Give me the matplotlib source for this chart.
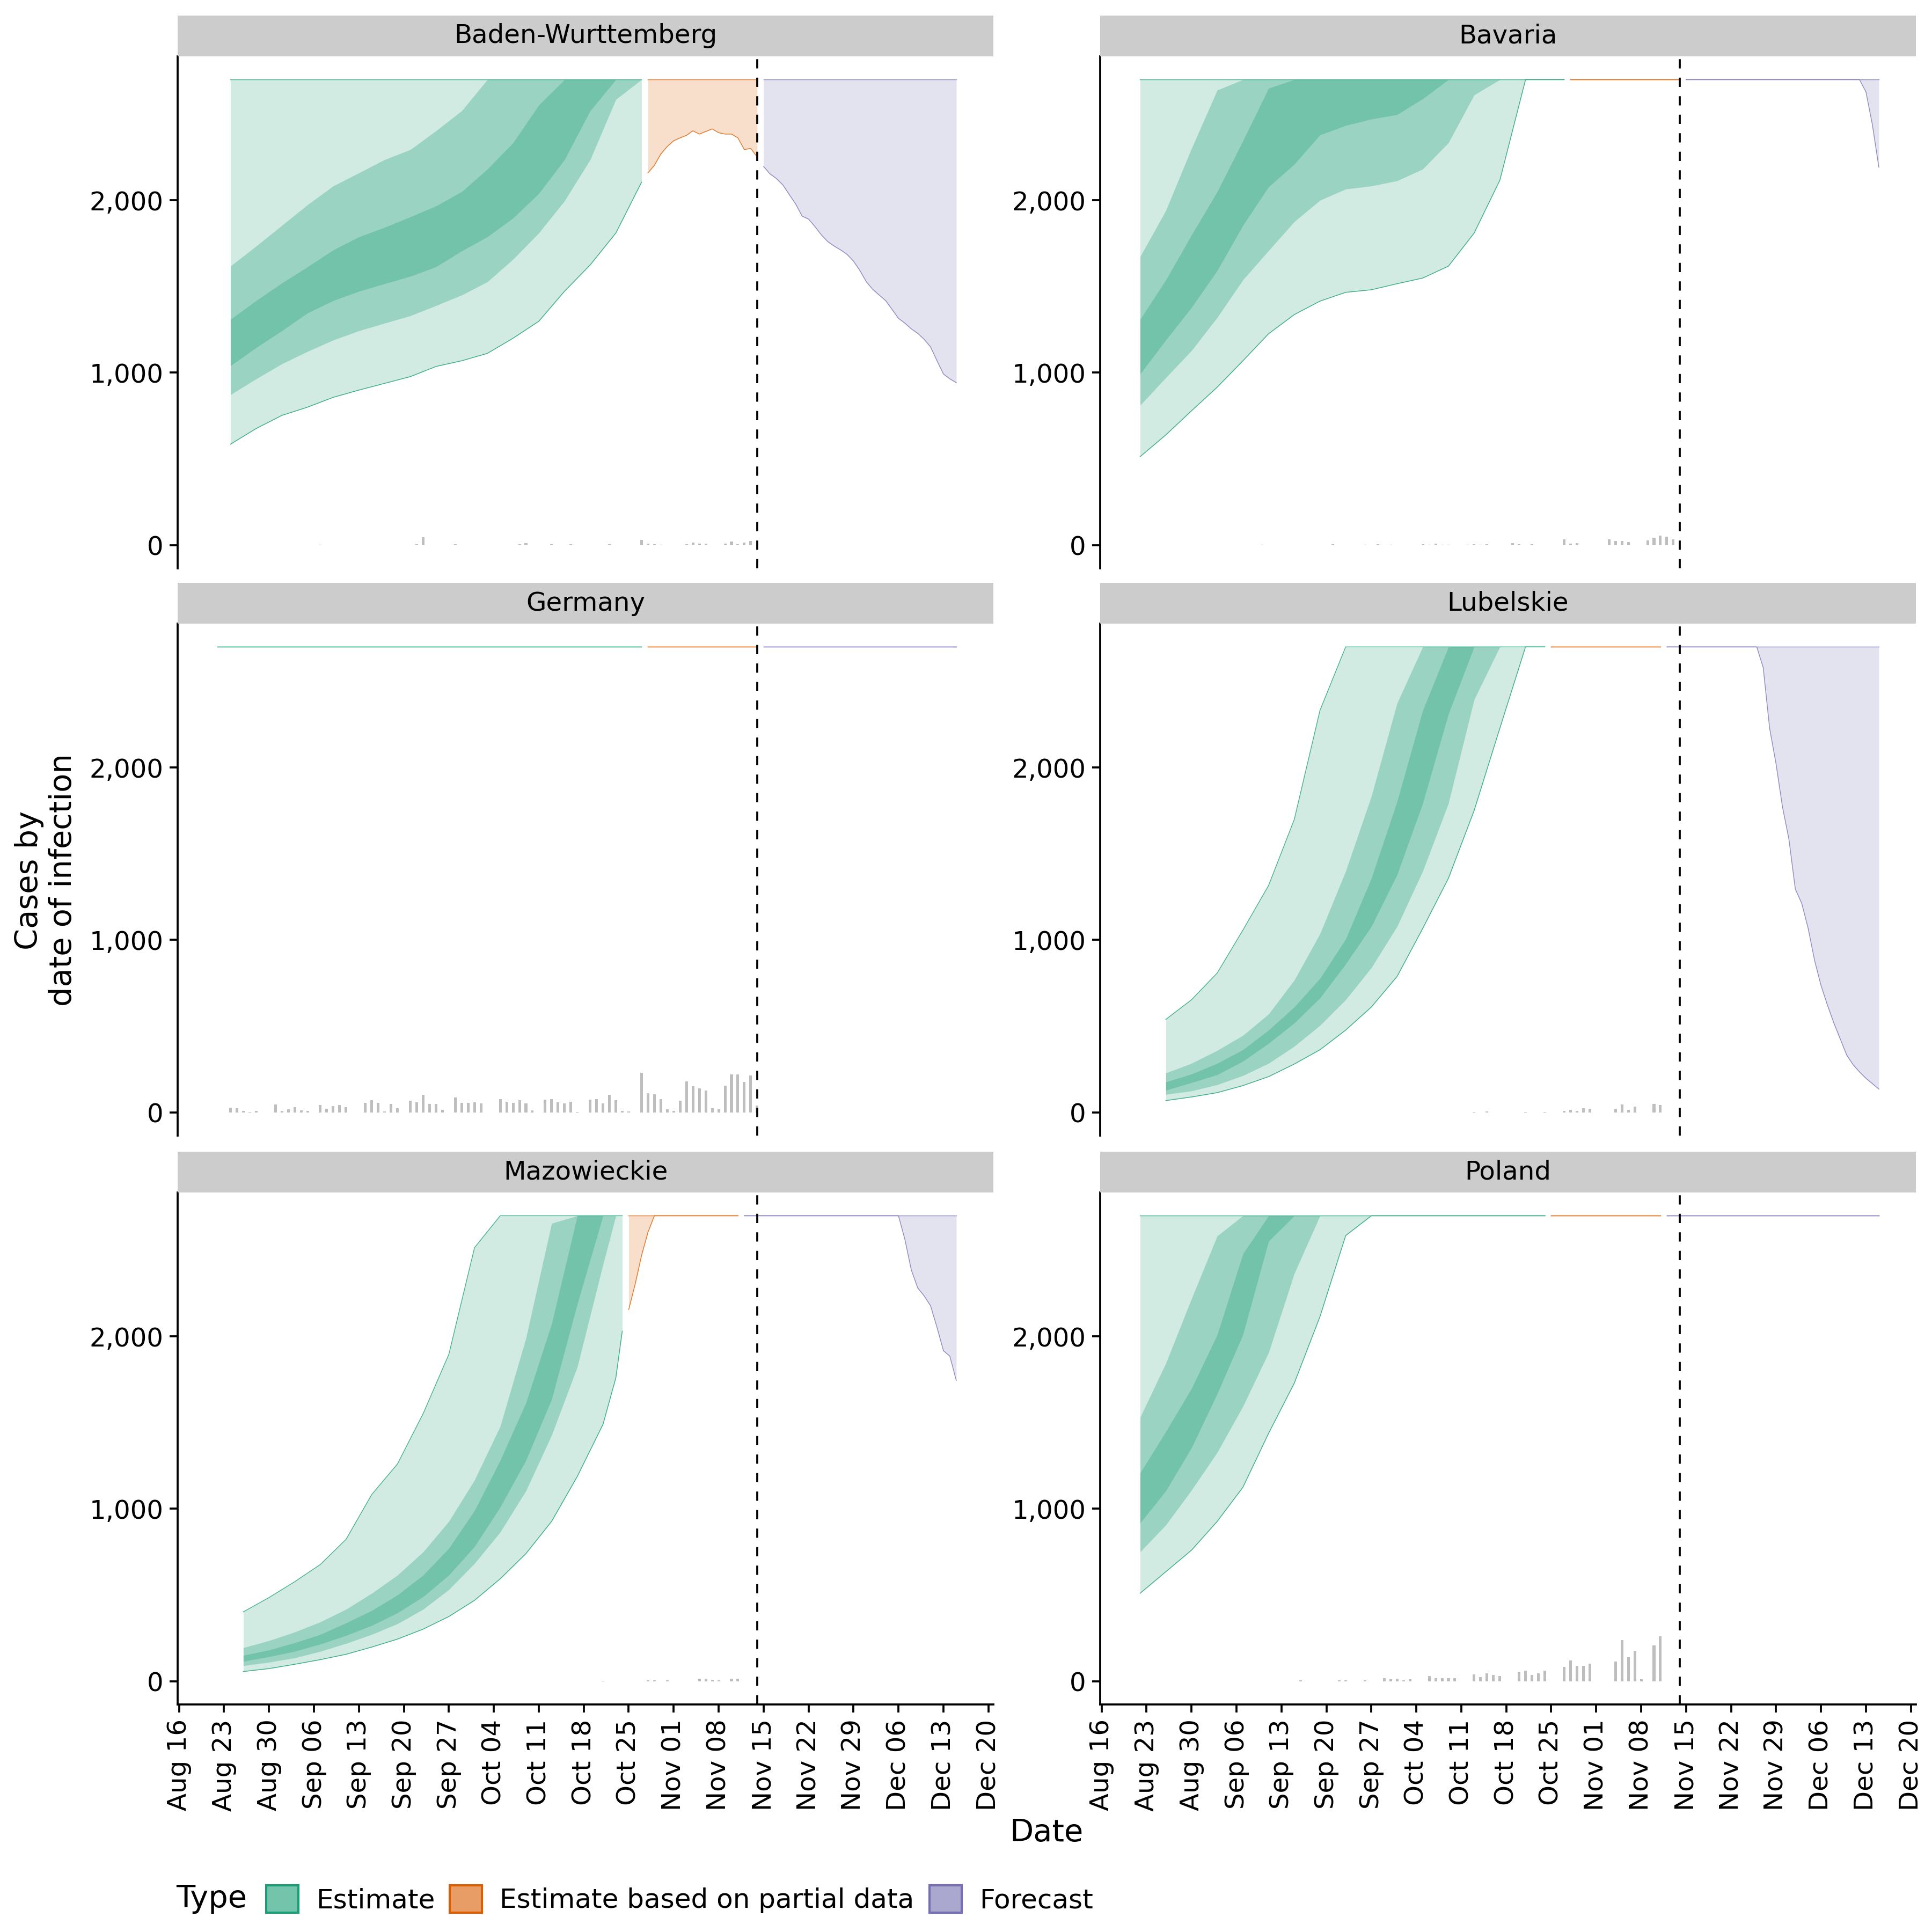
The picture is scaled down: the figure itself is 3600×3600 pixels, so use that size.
import numpy as np
import matplotlib
matplotlib.use("Agg")
import matplotlib.pyplot as plt
import matplotlib.dates as mdates
from matplotlib.patches import Patch

plt.rcParams["font.family"] = ["DejaVu Sans"]

# ---------------------------------------------------------------- data
BASE_DATE = np.datetime64("2020-08-16")   # day 0
CAP = 2700            # ribbons are capped at max_plot * max(reported)
REPORT_END_DAY = 90   # dashed line: last reported date (Nov 14)

REGIONS = ["Baden-Wurttemberg", "Bavaria", "Germany", "Lubelskie", "Mazowieckie", "Poland"]
TYPES = ["Estimate", "Estimate based on partial data", "Forecast"]
TYPE_COLORS = ["#1B9E77", "#D95F02", "#7570B3"]
Y_TICKS = [0, 1000, 2000]
X_TICK_DAYS = list(range(0, 127, 7))   # weekly, Aug 16 .. Dec 20

# ---- Baden-Wurttemberg
BW_EST_DAY = [8, 12, 16, 20, 24, 28, 32, 36, 40, 44, 48, 52, 56, 60, 64, 68, 72]
BW_EST_L90 = [585, 676, 752, 800, 857, 899, 938, 977, 1036, 1069, 1112, 1200, 1298, 1472, 1625, 1810, 2105]
BW_EST_L50 = [872, 964, 1051, 1123, 1189, 1243, 1287, 1330, 1389, 1450, 1527, 1658, 1810, 1996, 2235, 2585, 2700]
BW_EST_L20 = [1040, 1145, 1243, 1346, 1418, 1472, 1516, 1559, 1614, 1706, 1788, 1897, 2039, 2235, 2519, 2700, 2700]
BW_EST_U20 = [1309, 1418, 1520, 1614, 1712, 1788, 1843, 1904, 1967, 2050, 2181, 2334, 2552, 2700, 2700, 2700, 2700]
BW_EST_U50 = [1618, 1734, 1854, 1974, 2083, 2159, 2236, 2294, 2403, 2519, 2700, 2700, 2700, 2700, 2700, 2700, 2700]
BW_PART_DAY = list(range(73, 91))
BW_PART_L90 = [2159, 2203, 2268, 2312, 2345, 2362, 2377, 2403, 2384, 2399, 2414, 2392, 2384, 2384, 2362, 2294, 2301, 2251]
BW_FC_DAY = list(range(91, 122))
BW_FC_L90 = [2196, 2153, 2126, 2089, 2033, 1978, 1908, 1891, 1847, 1799, 1760, 1734, 1712, 1686, 1647, 1592,
             1527, 1483, 1450, 1418, 1367, 1315, 1287, 1254, 1228, 1193, 1149, 1069, 992, 964, 942]
BW_BAR_DAY = [22, 37, 38, 43, 53, 54, 58, 61, 67, 72, 73, 74, 75, 79, 80, 81, 82, 85, 86, 87, 88, 89]
BW_BAR_CASES = [3, 4, 45, 4, 4, 12, 4, 4, 4, 31, 9, 4, 2, 4, 15, 7, 7, 9, 22, 4, 13, 24]

# ---- Bavaria
BY_EST_DAY = [6, 10, 14, 18, 22, 26, 30, 34, 38, 42, 46, 50, 54, 58, 62, 66, 70, 72]
BY_EST_L90 = [513, 639, 779, 916, 1069, 1226, 1337, 1415, 1466, 1481, 1516, 1549, 1618, 1810, 2116, 2700, 2700, 2700]
BY_EST_L50 = [811, 971, 1128, 1320, 1538, 1708, 1876, 2000, 2065, 2083, 2113, 2181, 2334, 2611, 2700, 2700, 2700, 2700]
BY_EST_L20 = [992, 1189, 1378, 1592, 1854, 2078, 2209, 2379, 2434, 2471, 2497, 2589, 2700, 2700, 2700, 2700, 2700, 2700]
BY_EST_U20 = [1309, 1538, 1799, 2050, 2345, 2650, 2700, 2700, 2700, 2700, 2700, 2700, 2700, 2700, 2700, 2700, 2700, 2700]
BY_EST_U50 = [1673, 1941, 2301, 2639, 2700, 2700, 2700, 2700, 2700, 2700, 2700, 2700, 2700, 2700, 2700, 2700, 2700, 2700]
BY_PART_DAY = [73, 90]
BY_PART_L90 = [2700, 2700]
BY_FC_DAY = [91, 118, 119, 120, 121]
BY_FC_L90 = [2700, 2700, 2628, 2438, 2192]
BY_BAR_DAY = [25, 36, 41, 43, 45, 50, 51, 52, 53, 54, 57, 58, 59, 60, 64, 65, 67, 72, 73, 74,
              79, 80, 81, 82, 85, 86, 87, 88, 89]
BY_BAR_CASES = [1, 4, 3, 5, 3, 4, 3, 7, 3, 2, 2, 5, 3, 5, 12, 5, 6, 33, 7, 12,
                32, 24, 24, 18, 28, 41, 56, 48, 34]

# ---- Germany (all intervals above the cap)
DE_EST_DAY = [6, 72]
DE_EST_L90 = [2700, 2700]
DE_PART_DAY = [73, 90]
DE_PART_L90 = [2700, 2700]
DE_FC_DAY = [91, 121]
DE_FC_L90 = [2700, 2700]
DE_BAR_DAY = [8, 9, 10, 11, 12, 15, 16, 17, 18, 19, 20, 22, 23, 24, 25, 26, 29, 30, 31, 32, 33, 34,
              36, 37, 38, 39, 40, 41, 43, 44, 45, 46, 47, 50, 51, 52, 53, 54, 55, 57, 58, 59, 60, 61, 62,
              64, 65, 66, 67, 68, 69, 70, 72, 73, 74, 75, 76, 77, 78, 79, 80, 81, 82, 83, 84, 85, 86,
              87, 88, 89, 90]
DE_BAR_CASES = [28, 25, 7, 3, 8, 45, 9, 19, 30, 10, 8, 44, 21, 36, 41, 31, 55, 69, 55, 5, 48, 24,
                67, 58, 101, 50, 48, 14, 86, 54, 54, 59, 53, 76, 62, 55, 71, 51, 10, 73, 77, 59, 51, 61, 3,
                73, 77, 53, 101, 72, 8, 5, 228, 112, 106, 76, 19, 9, 67, 179, 150, 140, 128, 24, 19, 155, 220,
                220, 176, 213, 40]

# ---- Lubelskie
LU_EST_DAY = [10, 14, 18, 22, 26, 30, 34, 38, 42, 46, 50, 54, 58, 62, 66, 69]
LU_EST_L90 = [68, 89, 114, 155, 207, 280, 363, 477, 611, 788, 1067, 1358, 1751, 2228, 2700, 2700]
LU_EST_L50 = [104, 124, 160, 213, 284, 383, 504, 653, 839, 1078, 1399, 1793, 2394, 2700, 2700, 2700]
LU_EST_L20 = [128, 172, 218, 296, 400, 518, 663, 860, 1078, 1378, 1793, 2311, 2700, 2700, 2700, 2700]
LU_EST_U20 = [176, 222, 284, 363, 477, 611, 777, 1005, 1358, 1803, 2332, 2700, 2700, 2700, 2700, 2700]
LU_EST_U50 = [228, 284, 359, 446, 570, 767, 1036, 1399, 1834, 2373, 2700, 2700, 2700, 2700, 2700, 2700]
LU_EST_U90 = [539, 653, 808, 1057, 1316, 1699, 2332, 2700, 2700, 2700, 2700, 2700, 2700, 2700, 2700, 2700]
LU_PART_DAY = [70, 87]
LU_PART_L90 = [2700, 2700]
LU_FC_DAY = [88, 102, 103, 104, 105, 106, 107, 108, 109, 110, 111, 112, 113, 114, 115, 116, 117, 118, 119, 120, 121]
LU_FC_L90 = [2700, 2700, 2580, 2228, 2021, 1772, 1585, 1295, 1212, 1067, 881, 736, 622, 518, 425, 332, 276,
             234, 197, 166, 135]
LU_BAR_DAY = [58, 60, 66, 69, 72, 73, 74, 75, 76, 80, 81, 82, 83, 86, 87]
LU_BAR_CASES = [2, 4, 2, 2, 9, 13, 9, 23, 20, 21, 45, 15, 32, 50, 42]

# ---- Mazowieckie
MZ_EST_DAY = [10, 14, 18, 22, 26, 30, 34, 38, 42, 46, 50, 54, 58, 62, 66, 68, 69]
MZ_EST_L90 = [56, 73, 98, 125, 156, 198, 244, 302, 375, 469, 594, 740, 927, 1188, 1490, 1760, 2031]
MZ_EST_L50 = [90, 110, 135, 173, 219, 271, 333, 417, 531, 683, 865, 1104, 1427, 1823, 2417, 2700, 2700]
MZ_EST_L20 = [115, 142, 173, 215, 265, 323, 396, 490, 615, 781, 1010, 1281, 1635, 2188, 2700, 2700, 2700]
MZ_EST_U20 = [150, 181, 223, 271, 338, 410, 500, 615, 771, 990, 1281, 1615, 2073, 2700, 2700, 2700, 2700]
MZ_EST_U50 = [194, 235, 285, 344, 417, 510, 615, 750, 927, 1167, 1479, 1990, 2656, 2700, 2700, 2700, 2700]
MZ_EST_U90 = [402, 485, 577, 677, 823, 1083, 1260, 1552, 1896, 2515, 2700, 2700, 2700, 2700, 2700, 2700, 2700]
MZ_PART_DAY = [70, 71, 72, 73, 74, 87]
MZ_PART_L90 = [2156, 2302, 2469, 2604, 2700, 2700]
MZ_FC_DAY = [88, 112, 113, 114, 115, 116, 117, 118, 119, 120, 121]
MZ_FC_L90 = [2700, 2700, 2562, 2385, 2281, 2235, 2177, 2052, 1917, 1885, 1744]
MZ_BAR_DAY = [66, 73, 74, 76, 81, 82, 83, 84, 86, 87]
MZ_BAR_CASES = [3, 6, 4, 4, 13, 13, 8, 6, 14, 14]

# ---- Poland
PL_EST_DAY = [6, 10, 14, 18, 22, 26, 30, 34, 38, 42, 46, 50, 54, 58, 62, 66, 69]
PL_EST_L90 = [510, 635, 760, 927, 1125, 1438, 1729, 2115, 2585, 2700, 2700, 2700, 2700, 2700, 2700, 2700, 2700]
PL_EST_L50 = [750, 906, 1108, 1327, 1594, 1906, 2365, 2700, 2700, 2700, 2700, 2700, 2700, 2700, 2700, 2700, 2700]
PL_EST_L20 = [917, 1104, 1354, 1667, 2010, 2552, 2700, 2700, 2700, 2700, 2700, 2700, 2700, 2700, 2700, 2700, 2700]
PL_EST_U20 = [1208, 1448, 1698, 2010, 2479, 2700, 2700, 2700, 2700, 2700, 2700, 2700, 2700, 2700, 2700, 2700, 2700]
PL_EST_U50 = [1531, 1844, 2219, 2583, 2700, 2700, 2700, 2700, 2700, 2700, 2700, 2700, 2700, 2700, 2700, 2700, 2700]
PL_PART_DAY = [70, 87]
PL_PART_L90 = [2700, 2700]
PL_FC_DAY = [88, 121]
PL_FC_L90 = [2700, 2700]
PL_BAR_DAY = [31, 37, 38, 41, 44, 45, 46, 47, 48, 51, 52, 53, 54, 55, 58, 59, 60, 61, 62, 65, 66, 67, 68, 69,
              72, 73, 74, 75, 76, 80, 81, 82, 83, 84, 86, 87]
PL_BAR_CASES = [6, 6, 6, 6, 17, 10, 15, 6, 10, 31, 19, 19, 19, 19, 38, 25, 46, 35, 31, 52, 62, 35, 46, 62,
                83, 121, 90, 90, 102, 115, 240, 140, 177, 10, 208, 260]

SEGMENTS = {
    "Baden-Wurttemberg": [
        ("Estimate", BW_EST_DAY, dict(L90=BW_EST_L90, L50=BW_EST_L50, L20=BW_EST_L20,
                                      U20=BW_EST_U20, U50=BW_EST_U50)),
        ("Estimate based on partial data", BW_PART_DAY, dict(L90=BW_PART_L90)),
        ("Forecast", BW_FC_DAY, dict(L90=BW_FC_L90))],
    "Bavaria": [
        ("Estimate", BY_EST_DAY, dict(L90=BY_EST_L90, L50=BY_EST_L50, L20=BY_EST_L20,
                                      U20=BY_EST_U20, U50=BY_EST_U50)),
        ("Estimate based on partial data", BY_PART_DAY, dict(L90=BY_PART_L90)),
        ("Forecast", BY_FC_DAY, dict(L90=BY_FC_L90))],
    "Germany": [
        ("Estimate", DE_EST_DAY, dict(L90=DE_EST_L90)),
        ("Estimate based on partial data", DE_PART_DAY, dict(L90=DE_PART_L90)),
        ("Forecast", DE_FC_DAY, dict(L90=DE_FC_L90))],
    "Lubelskie": [
        ("Estimate", LU_EST_DAY, dict(L90=LU_EST_L90, L50=LU_EST_L50, L20=LU_EST_L20,
                                      U20=LU_EST_U20, U50=LU_EST_U50, U90=LU_EST_U90)),
        ("Estimate based on partial data", LU_PART_DAY, dict(L90=LU_PART_L90)),
        ("Forecast", LU_FC_DAY, dict(L90=LU_FC_L90))],
    "Mazowieckie": [
        ("Estimate", MZ_EST_DAY, dict(L90=MZ_EST_L90, L50=MZ_EST_L50, L20=MZ_EST_L20,
                                      U20=MZ_EST_U20, U50=MZ_EST_U50, U90=MZ_EST_U90)),
        ("Estimate based on partial data", MZ_PART_DAY, dict(L90=MZ_PART_L90)),
        ("Forecast", MZ_FC_DAY, dict(L90=MZ_FC_L90))],
    "Poland": [
        ("Estimate", PL_EST_DAY, dict(L90=PL_EST_L90, L50=PL_EST_L50, L20=PL_EST_L20,
                                      U20=PL_EST_U20, U50=PL_EST_U50)),
        ("Estimate based on partial data", PL_PART_DAY, dict(L90=PL_PART_L90)),
        ("Forecast", PL_FC_DAY, dict(L90=PL_FC_L90))],
}
BARS = {
    "Baden-Wurttemberg": (BW_BAR_DAY, BW_BAR_CASES),
    "Bavaria": (BY_BAR_DAY, BY_BAR_CASES),
    "Germany": (DE_BAR_DAY, DE_BAR_CASES),
    "Lubelskie": (LU_BAR_DAY, LU_BAR_CASES),
    "Mazowieckie": (MZ_BAR_DAY, MZ_BAR_CASES),
    "Poland": (PL_BAR_DAY, PL_BAR_CASES),
}

# ---------------------------------------------------------------- helpers
def to_dates(days):
    return BASE_DATE + np.asarray(days, dtype=int).astype("timedelta64[D]")


def to_num(days):
    return mdates.date2num(to_dates(days))


def bound(b, key, n):
    v = b.get(key)
    arr = np.full(n, float(CAP)) if v is None else np.asarray(v, dtype=float)
    return np.minimum(arr, CAP)


TYPE_COLOR = dict(zip(TYPES, TYPE_COLORS))
BAR_WIDTH = 0.42

all_days = [d for segs in SEGMENTS.values() for s in segs for d in s[1]]
all_days += [d for b in BARS.values() for d in b[0]]
x_lo, x_hi = 6 - 0.45, max(all_days)
x_pad = 0.05 * (x_hi - x_lo)
XLIM = (mdates.date2num(BASE_DATE) + x_lo - x_pad, mdates.date2num(BASE_DATE) + x_hi + x_pad)
YLIM = (-0.05 * CAP, 1.05 * CAP)

# ---------------------------------------------------------------- figure
fig = plt.figure(figsize=(12, 12), dpi=300)
PX = 3600.0
COL_X = [331 / PX, 2050 / PX]
PANEL_W = 1520 / PX
ROW_TOP = [105, 1162, 2222]
PANEL_H = 954 / PX
STRIP_H = 76 / PX
TICK_FS = 11.6
TITLE_FS = 13.8
SPINE_LW = 0.9

for i, region in enumerate(REGIONS):
    r, c = divmod(i, 2)
    bottom = 1 - (ROW_TOP[r] + 954) / PX
    ax = fig.add_axes([COL_X[c], bottom, PANEL_W, PANEL_H])

    bd, bc = BARS[region]
    ax.bar(to_num(bd), bc, width=BAR_WIDTH, color="#BEBEBE", linewidth=0, zorder=1)

    for typ, days, b in SEGMENTS[region]:
        n = len(days)
        x = to_num(days)
        col = TYPE_COLOR[typ]
        l90, u90 = bound(b, "L90", n), bound(b, "U90", n)
        l50, u50 = bound(b, "L50", n), bound(b, "U50", n)
        l20, u20 = bound(b, "L20", n), bound(b, "U20", n)
        ax.fill_between(x, l90, u90, color=col, alpha=0.2, linewidth=0, zorder=2)
        ax.fill_between(x, l50, u50, color=col, alpha=0.3, linewidth=0, zorder=2)
        ax.fill_between(x, l20, u20, color=col, alpha=0.3, linewidth=0, zorder=2)
        ax.plot(x, l90, color=col, lw=0.35, alpha=0.8, zorder=2.5)
        ax.plot(x, u90, color=col, lw=0.35, alpha=0.8, zorder=2.5)

    ax.axvline(to_num([REPORT_END_DAY])[0], color="black", lw=0.9,
               linestyle=(0, (4.6, 4.6)), zorder=3)

    ax.set_xlim(*XLIM)
    ax.set_ylim(*YLIM)
    ax.set_yticks(Y_TICKS)
    ax.set_yticklabels([f"{v:,}" for v in Y_TICKS])
    ax.set_xticks(to_num(X_TICK_DAYS))
    ax.xaxis.set_major_formatter(mdates.DateFormatter("%b %d"))

    for s in ["top", "right"]:
        ax.spines[s].set_visible(False)
    ax.spines["left"].set_linewidth(SPINE_LW)
    ax.spines["bottom"].set_linewidth(SPINE_LW)
    ax.tick_params(axis="both", direction="out", length=3.6, width=SPINE_LW,
                   labelsize=TICK_FS, colors="black", pad=2.8)
    if r < 2:
        ax.spines["bottom"].set_visible(False)
        ax.tick_params(axis="x", bottom=False, labelbottom=False)
    else:
        ax.tick_params(axis="x", pad=3)
        for lab in ax.get_xticklabels():
            lab.set_rotation(90)
            lab.set_ha("center")
            lab.set_va("top")

    # facet strip
    sax = fig.add_axes([COL_X[c], bottom + PANEL_H, PANEL_W, STRIP_H])
    sax.set_facecolor("#CCCCCC")
    sax.set_xticks([])
    sax.set_yticks([])
    for s in sax.spines.values():
        s.set_visible(False)
    sax.text(0.5, 0.5, region, ha="center", va="center", fontsize=TICK_FS,
             transform=sax.transAxes)

# axis titles
fig.text(86 / PX, 1 - 1640 / PX, "Cases by\ndate of infection", rotation=90,
         ha="center", va="center", fontsize=TITLE_FS, multialignment="center")
fig.text(1950 / PX, 1 - 3416 / PX, "Date", ha="center", va="center", fontsize=TITLE_FS)

# legend
fill_alpha = 1 - (1 - 0.2) * (1 - 0.3) * (1 - 0.3)
handles = [Patch(facecolor=matplotlib.colors.to_rgba(col, fill_alpha), edgecolor=col, linewidth=1.0)
           for col in TYPE_COLORS]
fig.text(328 / PX, 1 - 3539 / PX, "Type", ha="left", va="center", fontsize=TITLE_FS)
fig.legend(handles, TYPES, loc="center left", bbox_to_anchor=(496 / PX, 1 - 3539 / PX),
           ncol=3, frameon=False, fontsize=12, handlelength=1.2, handleheight=1.2,
           handletextpad=0.66, columnspacing=0.56, borderpad=0, borderaxespad=0)

fig.savefig("out.png", dpi=300, facecolor="white")
